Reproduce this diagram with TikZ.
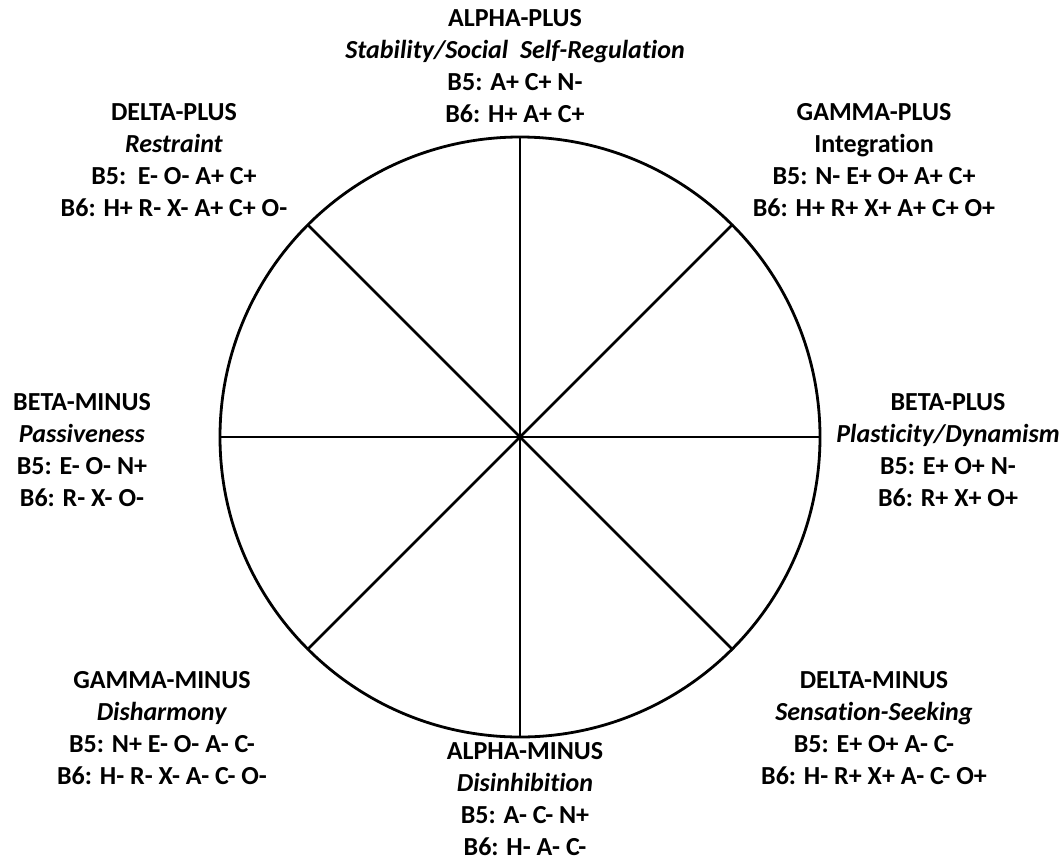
\documentclass[tikz,border=0pt]{standalone}
\usepackage{fontspec}
\setmainfont{Carlito}[Ligatures=NoCommon]
\usetikzlibrary{calc}
\begin{document}
\begin{tikzpicture}[x=1pt,y=-1pt,
  lbl/.style={align=center,font=\fontsize{26}{32}\selectfont\bfseries,inner sep=0pt},
  rim/.style={line width=2.8pt,black}]
\useasboundingbox (0,0) rectangle (1064,862);
\coordinate (o) at (520,437);
\draw[rim] (o) circle[radius=300pt];
\coordinate (n) at (520,137);
\coordinate (s) at (520,737);
\coordinate (w) at (220,437);
\coordinate (e) at (820,437);
\coordinate (ne) at ($(o)+(212.13,-212.13)$);
\coordinate (sw) at ($(o)+(-212.13,212.13)$);
\coordinate (nw) at ($(o)+(-212.13,-212.13)$);
\coordinate (se) at ($(o)+(212.13,212.13)$);
\draw[rim] (n) -- (s);
\draw[rim] (w) -- (e);
\draw[rim] (ne) -- (sw);
\draw[rim] (nw) -- (se);
\node[lbl] (ap) at (515,66) {ALPHA-PLUS\\ \textit{Stability/Social\ \ Self-Regulation}\\ B5: A+ C+ N-\\ B6: H+ A+ C+};
\node[lbl] (dp) at (174,160) {DELTA-PLUS\\ \textit{Restraint}\\ B5:\ \ E- O- A+ C+\\ B6: H+ R- X- A+ C+ O-};
\node[lbl] (gp) at (874,160) {GAMMA-PLUS\\ Integration\\ B5: N- E+ O+ A+ C+\\ B6: H+ R+ X+ A+ C+ O+};
\node[lbl] (bm) at (82,450) {BETA-MINUS\\ \textit{Passiveness}\\ B5: E- O- N+\\ B6: R- X- O-};
\node[lbl] (bp) at (948,450) {BETA-PLUS\\ \textit{Plasticity/Dynamism}\\ B5: E+ O+ N-\\ B6: R+ X+ O+};
\node[lbl] (gm) at (162,728) {GAMMA-MINUS\\ \textit{Disharmony}\\ B5: N+ E- O- A- C-\\ B6: H- R- X- A- C- O-};
\node[lbl] (dm) at (874,728) {DELTA-MINUS\\ \textit{Sensation-Seeking}\\ B5: E+ O+ A- C-\\ B6: H- R+ X+ A- C- O+};
\node[lbl] (am) at (525,799) {ALPHA-MINUS\\ \textit{Disinhibition}\\ B5: A- C- N+\\ B6: H- A- C-};
\end{tikzpicture}
\end{document}
